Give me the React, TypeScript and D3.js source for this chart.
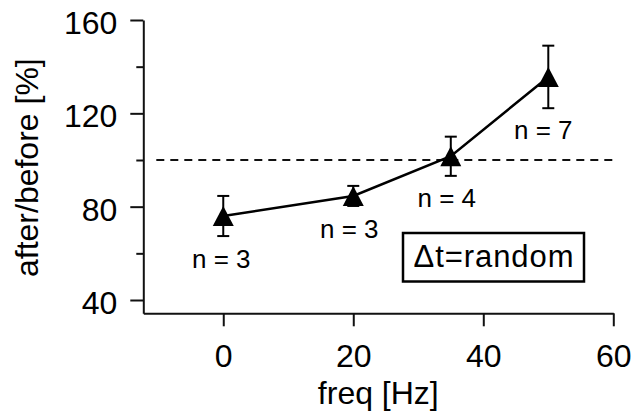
import React, { useEffect, useRef } from 'react';
import * as d3 from 'd3';

// frequency of pairing (Hz) and the change after/before (%)
const freqs = [0, 20, 35, 50];
const ratios = [76, 84.6, 101.6, 135.6];
const errors = [8.6, 4.3, 8.4, 13.4];
const nCounts = [3, 3, 4, 7];

const yMajorTicks = [40, 80, 120, 160];
const yMinorTicks = [60, 100, 140];
const xTicks = [0, 20, 40, 60];
const referenceLevel = 100;
const legendText = 'Δt=random';

// pixel offsets of the "n = .." labels from their points
const nLabelOffsets = [
  [-2, 52],
  [-4, 42],
  [-4, 51],
  [-5, 62],
];

const W = 631;
const H = 418;
const FONT = '"Liberation Sans", Arial, Helvetica, sans-serif';

const App = () => {
  const svgRef = useRef(null);

  useEffect(() => {
    const svg = d3.select(svgRef.current).html('');

    const x = d3.scaleLinear().domain([-12.3, 60]).range([143.3, 613.3]);
    const y = d3.scaleLinear().domain([34.3, 160]).range([313.3, 20]);

    const data = freqs.map((f, i) => ({ f, v: ratios[i], e: errors[i], n: nCounts[i] }));

    // axes
    const yAxis = svg.append('g')
      .attr('transform', `translate(${x.range()[0]},0)`)
      .call(d3.axisLeft(y).tickValues(yMajorTicks).tickSize(13).tickSizeOuter(0).tickPadding(13));
    yAxis.selectAll('text')
      .attr('dy', '0.42em')
      .style('font-size', '32px');

    svg.append('g')
      .attr('transform', `translate(${x.range()[0]},0)`)
      .call(d3.axisLeft(y).tickValues(yMinorTicks).tickSize(7).tickFormat(() => ''))
      .select('.domain').remove();

    const xAxis = svg.append('g')
      .attr('transform', `translate(0,${y.range()[0]})`)
      .call(d3.axisBottom(x).tickValues(xTicks).tickSize(13).tickSizeOuter(0).tickPadding(18));
    xAxis.selectAll('text').style('font-size', '32px');

    svg.selectAll('g text')
      .style('font-family', FONT)
      .style('fill', '#000');
    svg.selectAll('path.domain, .tick line')
      .attr('stroke', '#111')
      .attr('stroke-width', 2);

    // axis titles
    svg.append('text')
      .attr('transform', `translate(38,${(y.range()[0] + y.range()[1]) / 2 + 1}) rotate(-90)`)
      .attr('text-anchor', 'middle')
      .style('font-family', FONT)
      .style('font-size', '32px')
      .text('after/before [%]');

    svg.append('text')
      .attr('x', (x.range()[0] + x.range()[1]) / 2)
      .attr('y', 404)
      .attr('text-anchor', 'middle')
      .style('font-family', FONT)
      .style('font-size', '32px')
      .text('freq [Hz]');

    // dashed reference line at 100 %
    svg.append('line')
      .attr('x1', x(-10.3))
      .attr('x2', x(60))
      .attr('y1', y(referenceLevel))
      .attr('y2', y(referenceLevel))
      .attr('stroke', '#111')
      .attr('stroke-width', 2)
      .attr('stroke-dasharray', '8,6');

    // connecting line
    const line = d3.line()
      .x(d => x(d.f))
      .y(d => y(d.v));

    svg.append('path')
      .datum(data)
      .attr('fill', 'none')
      .attr('stroke', '#000')
      .attr('stroke-width', 2.5)
      .attr('d', line);

    // error bars
    const bars = svg.append('g').attr('stroke', '#000').attr('stroke-width', 2);
    data.forEach(d => {
      const cx = x(d.f);
      const top = y(d.v + d.e);
      const bot = y(d.v - d.e);
      bars.append('line').attr('x1', cx).attr('x2', cx).attr('y1', top).attr('y2', bot);
      bars.append('line').attr('x1', cx - 6).attr('x2', cx + 6).attr('y1', top).attr('y2', top);
      bars.append('line').attr('x1', cx - 6).attr('x2', cx + 6).attr('y1', bot).attr('y2', bot);
    });

    // triangle markers
    const tri = 'M0,-10L10.5,10L-10.5,10Z';
    svg.append('g')
      .selectAll('path')
      .data(data)
      .join('path')
      .attr('transform', d => `translate(${x(d.f)},${y(d.v)})`)
      .attr('d', tri)
      .attr('fill', '#000');

    // n labels
    svg.append('g')
      .selectAll('text')
      .data(data)
      .join('text')
      .attr('x', (d, i) => x(d.f) + nLabelOffsets[i][0])
      .attr('y', (d, i) => y(d.v) + nLabelOffsets[i][1])
      .attr('text-anchor', 'middle')
      .style('font-family', FONT)
      .style('font-size', '26px')
      .text(d => `n = ${d.n}`);

    // legend box
    const legend = svg.append('g').attr('transform', 'translate(403,233)');
    legend.append('rect')
      .attr('width', 181)
      .attr('height', 48.5)
      .attr('fill', '#fff')
      .attr('stroke', '#000')
      .attr('stroke-width', 2.5);
    legend.append('text')
      .attr('x', 90.5)
      .attr('y', 33.5)
      .attr('text-anchor', 'middle')
      .style('font-family', FONT)
      .style('font-size', '31px')
      .attr('textLength', 160)
      .text(legendText);
  }, []);

  return (
    <svg
      ref={svgRef}
      width={W}
      height={H}
      style={{ position: 'absolute', left: 0, top: 0, background: '#fff' }}
    />
  );
};

export default App;
